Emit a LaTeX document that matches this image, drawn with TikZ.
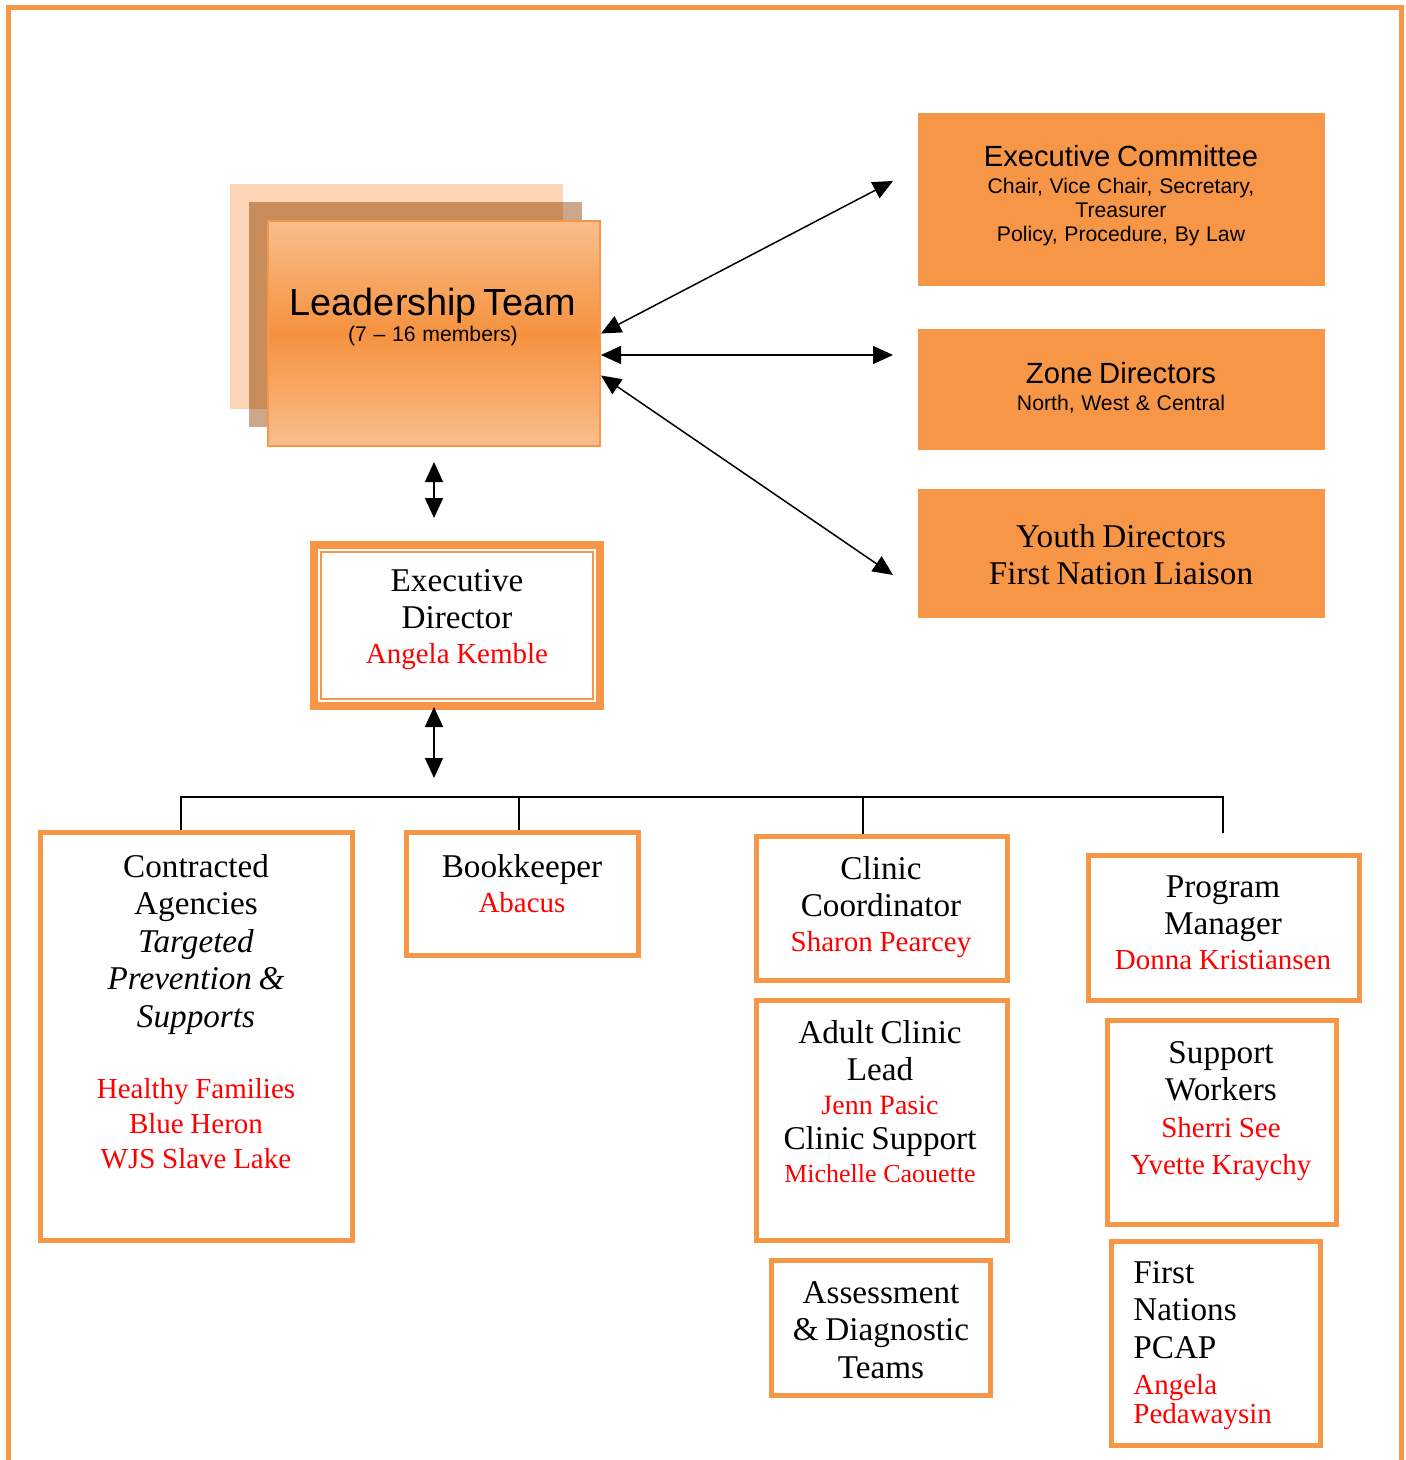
\documentclass[tikz,border=0pt]{standalone}
\usepackage{fontspec}
\setmainfont{Liberation Serif}
\newfontfamily\arialf{Liberation Sans}
\usetikzlibrary{arrows.meta}

\definecolor{accent}{HTML}{F79646}
\definecolor{peach}{HTML}{FCD6B6}
\definecolor{brownov}{HTML}{C98C5B}
\definecolor{brownlt}{HTML}{CBA78C}
\definecolor{gradlt}{HTML}{F9BE8C}
\definecolor{graddk}{HTML}{F5923F}
\definecolor{namered}{HTML}{FF0000}

\newcommand{\bigt}{\fontsize{16.6}{18.75}\selectfont}
\newcommand{\redt}{\fontsize{14.5}{17.6}\selectfont\color{namered}}

\begin{document}
\begin{tikzpicture}[x=0.5pt, y=-0.5pt,
  obox/.style={draw=accent, line width=2.5pt, fill=white},
  fbox/.style={fill=accent, minimum width=203.5pt},
  txt/.style={anchor=base, align=center, inner sep=0pt, text width=#1},
  biarrow/.style={{Triangle[length=10pt,width=9pt]}-{Triangle[length=10pt,width=9pt]}, line width=0.75pt},
  tree/.style={line width=0.75pt}]
\useasboundingbox (0,0) rectangle (1406,1460);

% Rahmen
\draw[accent, line width=2.75pt] (8.5,1460) -- (8.5,7.5) -- (1401.5,7.5) -- (1401.5,1460);

% Leitung
\fill[peach] (230,184) rectangle (563,409);
\fill[brownlt] (249,202) rectangle (582,427);
\fill[brownov] (249,202) rectangle (563,409);
\node[draw=accent, line width=1pt, minimum width=166pt, minimum height=112.5pt,
  top color=gradlt, bottom color=gradlt, middle color=graddk] (lead) at (434,333.5) {};
\node[txt=165pt] (leadtxt) at (433,316) {\arialf\fontsize{18.9}{22}\selectfont Leadership Team\par
  \fontsize{10.6}{13}\selectfont (7 – 16 members)\par};

% Gremien rechts
\node[fbox, minimum height=86.5pt] (excom) at (1121.5,199.5) {};
\node[txt=200pt] (excomtxt) at (1121,167) {\arialf\fontsize{14.6}{16}\selectfont Executive Committee\par
  \fontsize{10.6}{12}\selectfont\vspace{1.5pt}Chair, Vice Chair, Secretary,\par Treasurer\par Policy, Procedure, By Law\par};
\node[fbox, minimum height=60.5pt] (zone) at (1121.5,389.5) {};
\node[txt=200pt] (zonetxt) at (1121,383) {\arialf\fontsize{14.6}{16}\selectfont Zone Directors\par
  \fontsize{10.6}{13.5}\selectfont North, West \& Central\par};
\node[fbox, minimum height=64.5pt] (youth) at (1121.5,553.5) {};
\node[txt=200pt] (youthtxt) at (1121,547) {\bigt Youth Directors\par First Nation Liaison\par};

\coordinate (ecin) at (893,181);
\coordinate (zdin) at (893,355);
\coordinate (ydin) at (893,575);
\draw[biarrow] (lead.east) -- (ecin);
\draw[biarrow] ([shift={(0,21.5)}]lead.east) -- (zdin);
\draw[biarrow] ([shift={(0,42)}]lead.east) -- (ydin);

% Geschaeftsfuehrung
\node[obox, line width=4pt, minimum width=143pt, minimum height=80.5pt] (edir) at (457,625.5) {};
\draw[accent, line width=1pt] ([shift={(11,11)}]edir.north west) rectangle ([shift={(-11,-11)}]edir.south east);
\node[txt=130pt] (edirtxt) at (457,591) {{\bigt Executive\par Director\par}{\redt Angela Kemble\par}};

\draw[biarrow, shorten <=7.5pt, shorten >=11.5pt] (lead.south) -- (lead.south |- edir.north);

% Verteiler
\coordinate (busmid) at (434,797);
\coordinate (busr) at (1223,797);
\draw[biarrow, shorten <=-1.5pt, shorten >=9.5pt] (busmid |- edir.south) -- (busmid);

% Stellen
\node[obox, minimum width=156pt, minimum height=204pt] (contr) at (196,1036) {};
\node[obox, minimum width=116pt, minimum height=61.5pt] (book) at (522,893.5) {};
\node[obox, minimum width=125.5pt, minimum height=72pt] (clinic) at (881.5,908) {};
\node[obox, minimum width=125.5pt, minimum height=120pt] (adult) at (881.5,1120) {};
\node[obox, minimum width=109.5pt, minimum height=67.5pt] (assess) at (880.5,1327.5) {};
\node[obox, minimum width=135.5pt, minimum height=72.5pt] (progm) at (1223.5,927.5) {};
\node[obox, minimum width=114.5pt, minimum height=102pt] (supp) at (1221.5,1122) {};
\node[obox, minimum width=104.5pt, minimum height=102pt] (fnpcap) at (1215.5,1343) {};

\draw[tree] ([xshift=-7.5pt]contr.north) |- (busr) -- ++(0,36);
\draw[tree] ([xshift=-1.5pt]book.north) -- ([xshift=-1.5pt]book.north |- busr);
\draw[tree] ([xshift=-9.25pt]clinic.north) -- ([xshift=-9.25pt]clinic.north |- busr);

\node[txt=150pt] (contrtxt) at (196,877) {{\bigt Contracted\par Agencies\par\itshape Targeted\par Prevention \&\par Supports\par}%
  {\redt\vspace{18pt}Healthy Families\par Blue Heron\par WJS Slave Lake\par}};
\node[txt=110pt] (booktxt) at (522,877) {{\bigt Bookkeeper\par}{\redt Abacus\par}};
\node[txt=120pt] (clinictxt) at (881,879) {{\bigt Clinic\par Coordinator\par}{\redt Sharon Pearcey\par}};
\node[txt=120pt] (adulttxt) at (880,1043) {{\bigt Adult Clinic\par Lead\par}{\redt\fontsize{14}{17}\selectfont Jenn Pasic\par}%
  {\fontsize{16.6}{17.5}\selectfont Clinic Support\par}{\redt\fontsize{13}{16.5}\selectfont Michelle Caouette\par}};
\node[txt=105pt] (assesstxt) at (881,1303) {{\bigt Assessment\par \& Diagnostic\par Teams\par}};
\node[txt=130pt] (progtxt) at (1223,897) {{\bigt Program\par Manager\par}{\redt Donna Kristiansen\par}};
\node[txt=110pt] (supptxt) at (1221,1063) {{\bigt Support\par Workers\par}{\redt\fontsize{14.5}{18.5}\selectfont Sherri See\par Yvette Kraychy\par}};
\node[txt=90pt, anchor=base west, align=left] (fntxt) at (1133,1283) {{\bigt First\par Nations\par PCAP\par}%
  {\redt\fontsize{14.5}{14.5}\selectfont\vspace{3.5pt}Angela\par Pedawaysin\par}};

\end{tikzpicture}
\end{document}
